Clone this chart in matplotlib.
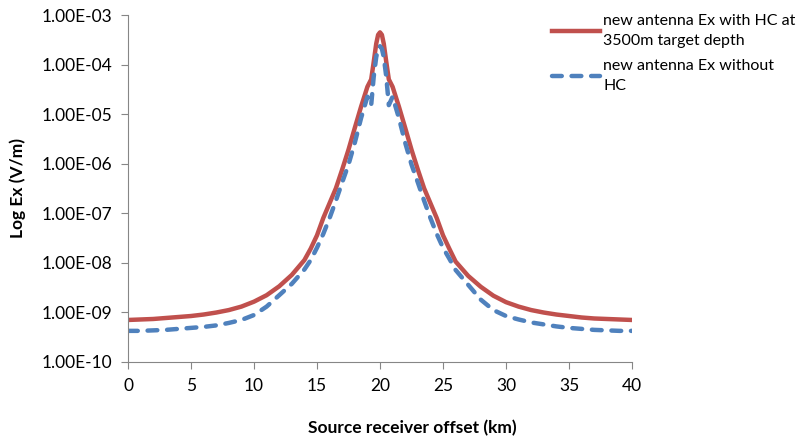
import numpy as np
import matplotlib.pyplot as plt
from matplotlib.ticker import FixedLocator, FuncFormatter

plt.rcParams['font.family'] = ['Lato', 'DejaVu Sans']

# offsets [km]
x = [0, 1, 2, 3, 4, 5, 6, 7, 8, 9, 10, 11, 12, 13, 14, 14.5, 15, 15.5, 16, 16.5,
     17, 17.5, 18, 18.5, 19, 19.3, 19.5, 19.7, 19.85, 20, 20.15, 20.3, 20.5, 20.7,
     21, 21.5, 22, 22.5, 23, 23.5, 24, 24.5, 25, 25.5, 26, 27, 28, 29, 30, 31,
     32, 33, 34, 35, 36, 37, 38, 39, 40]

# log10 Ex [V/m], with HC at 3500m
log_hc = [-9.16, -9.15, -9.14, -9.12, -9.10, -9.08, -9.05, -9.01, -8.96, -8.89,
          -8.79, -8.66, -8.48, -8.25, -7.95, -7.72, -7.45, -7.10, -6.80, -6.50,
          -6.12, -5.72, -5.28, -4.85, -4.45, -4.30, -3.95, -3.58, -3.40, -3.35,
          -3.40, -3.58, -3.95, -4.30, -4.45, -4.85, -5.28, -5.72, -6.12, -6.50,
          -6.80, -7.10, -7.45, -7.72, -7.98, -8.27, -8.49, -8.67, -8.80, -8.89,
          -8.96, -9.01, -9.05, -9.08, -9.11, -9.13, -9.14, -9.15, -9.16]

# log10 Ex [V/m], without HC
log_nohc = [-9.38, -9.38, -9.37, -9.36, -9.34, -9.32, -9.30, -9.27, -9.22, -9.16,
            -9.06, -8.89, -8.66, -8.43, -8.14, -7.95, -7.70, -7.42, -7.10, -6.75,
            -6.38, -6.02, -5.58, -5.08, -4.65, -4.82, -4.25, -3.85, -3.68, -3.63,
            -3.68, -3.85, -4.25, -4.82, -4.65, -5.08, -5.58, -6.02, -6.38, -6.75,
            -7.10, -7.42, -7.70, -7.92, -8.15, -8.45, -8.75, -8.96, -9.08, -9.15,
            -9.21, -9.25, -9.29, -9.32, -9.34, -9.36, -9.37, -9.38, -9.38]

ex_hc = 10.0 ** np.array(log_hc)
ex_nohc = 10.0 ** np.array(log_nohc)

fig = plt.figure(figsize=(8, 4.42), dpi=100)
ax = fig.add_axes([0.16, 0.182, 0.63, 0.784])

ax.plot(x, ex_hc, color='#C0504D', lw=3.2, solid_joinstyle='round',
        label='new antenna Ex with HC at\n3500m target depth')
ax.plot(x, ex_nohc, color='#4F81BD', lw=3.2, ls=(0, (2.2, 2.2)),
        dash_capstyle='round', dash_joinstyle='round',
        label='new antenna Ex without\nHC')

ax.set_yscale('log')
ax.set_ylim(1e-10, 1e-3)
ax.set_xlim(0, 40)
ax.set_xticks(range(0, 41, 5))
ax.yaxis.set_major_locator(FixedLocator([10.0 ** k for k in range(-10, -2)]))
ax.yaxis.set_minor_locator(FixedLocator([]))
ax.yaxis.set_major_formatter(FuncFormatter(lambda v, p: '1.00E-%02d' % (-int(round(np.log10(v))))))

for s in ['top', 'right']:
    ax.spines[s].set_visible(False)
for s in ['left', 'bottom']:
    ax.spines[s].set_color('#868686')
ax.tick_params(colors='#868686', length=5, labelcolor='black', labelsize=12.5)
ax.tick_params(axis='x', pad=7)
ax.tick_params(axis='y', pad=6)

ax.set_xlabel('Source receiver offset (km)', fontsize=12.5, fontweight='bold')
ax.xaxis.set_label_coords((412 - 128) / 504, -(420 - 362) / 347)
ax.set_ylabel('Log Ex (V/m)', fontsize=12.5, fontweight='bold')
ax.yaxis.set_label_coords(-(128 - 26) / 504, 0.5)

leg = fig.legend(loc='upper left', bbox_to_anchor=(552 / 800, 1 - 14 / 442), frameon=False,
                 fontsize=11.5, handlelength=3.0, handletextpad=0.2, labelspacing=0.75,
                 borderaxespad=0.0, borderpad=0.0)
for t in leg.get_texts():
    t.set_linespacing(1.5)

fig.savefig('out.png', dpi=100)
